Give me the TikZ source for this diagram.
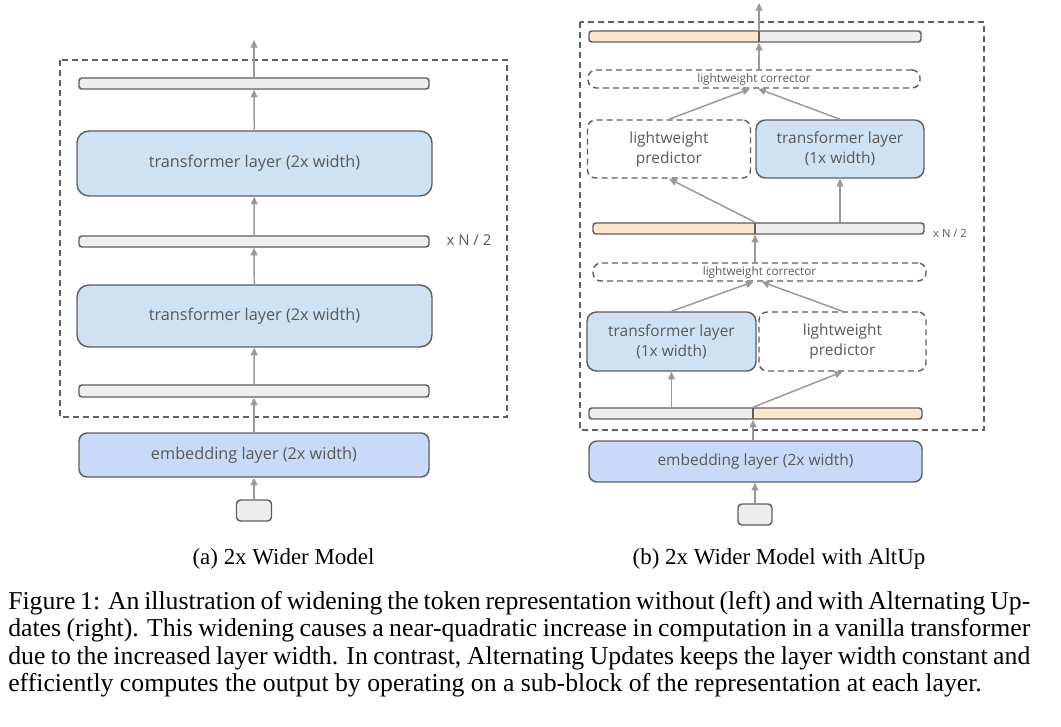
\documentclass[tikz,border=0pt]{standalone}
\usepackage{fontspec}
\setmainfont{Liberation Serif}
\newfontfamily\gsans{Open Sans}
\usetikzlibrary{arrows.meta,calc}
\definecolor{tfill}{HTML}{CFE2F3}
\definecolor{efill}{HTML}{C9DAF8}
\definecolor{bfill}{HTML}{EEEEEE}
\definecolor{ofill}{HTML}{FCE5CD}
\definecolor{edgec}{HTML}{5F5F5F}
\definecolor{arrc}{HTML}{999999}
\definecolor{txtc}{HTML}{595959}
\def\pxu{0.75pt}
\begin{document}
\begin{tikzpicture}[x=0.75pt,y=-0.75pt,
  boxbase/.style={draw=edgec, line width=1.1pt, inner sep=0pt, text=txtc, align=center},
  sized/.style 2 args={minimum width=#1*\pxu, minimum height=#2*\pxu},
  bigtxt/.style={font=\gsans\fontsize{12.2}{15}\selectfont},
  midtxt/.style={font=\gsans\fontsize{11.6}{15}\selectfont},
  smalltxt/.style={font=\gsans\fontsize{8.8}{10}\selectfont},
  tlayer/.style={boxbase, fill=tfill, rounded corners=9pt},
  emb/.style={boxbase, fill=efill, rounded corners=6pt},
  barbox/.style={boxbase, fill=bfill, rounded corners=2.2pt},
  tok/.style={boxbase, fill=bfill, rounded corners=3pt},
  dashbox/.style={boxbase, dash pattern=on 4.5pt off 3pt, rounded corners=6pt, fill=white},
  frame/.style={draw=edgec, line width=1.1pt, dash pattern=on 4.5pt off 3pt},
  arr/.style={draw=arrc, line width=1.1pt, -{Triangle[length=5.8pt,width=5.2pt]}},
  lbl/.style={text=txtc, inner sep=0pt},
  orangeleft/.style={path picture={
     \fill[ofill] (path picture bounding box.north west) rectangle ([xshift=#1]path picture bounding box.south);
     \draw[edgec, line width=1.1pt] ([xshift=#1]path picture bounding box.north) -- ([xshift=#1]path picture bounding box.south);}},
  orangeright/.style={path picture={
     \fill[ofill] ([xshift=#1]path picture bounding box.north) rectangle (path picture bounding box.south east);
     \draw[edgec, line width=1.1pt] ([xshift=#1]path picture bounding box.north) -- ([xshift=#1]path picture bounding box.south);}},
  subcap/.style={anchor=base, inner sep=0pt, font=\fontsize{17.2}{20.5}\selectfont},
  bodyline/.style={anchor=base west, inner sep=0pt, font=\fontsize{19.3}{21}\selectfont}
]
\useasboundingbox (0,0) rectangle (1061,727);

% ---------------- left panel ----------------
\draw[frame] (60,60) rectangle (507,417);
\node[barbox, sized={350}{11}] (a4) at (254,83.5) {};
\node[tlayer, bigtxt, sized={355}{65}] (a3) at (254.5,163.5) {transformer layer (2x width)};
\node[barbox, sized={350}{11}] (a2) at (254,241.5) {};
\node[tlayer, bigtxt, sized={355}{62}] (a1) at (254.5,316) {transformer layer (2x width)};
\node[barbox, sized={350}{12}] (a0) at (254,391) {};
\node[emb, bigtxt, sized={350}{44}] (ae) at (254,455) {embedding layer (2x width)};
\node[tok, sized={35}{21}] (at) at (254,510.5) {};
\node[lbl, font=\gsans\fontsize{11.2}{13}\selectfont] (an) at (469,240) {x N / 2};
\coordinate (aout) at (254,40);

\draw[arr] (at) -- (ae);
\draw[arr] (ae) -- (a0);
\draw[arr] (a0) -- (a1);
\draw[arr] (a1) -- (a2);
\draw[arr] (a2) -- (a3);
\draw[arr] (a3) -- (a4);
\draw[arr] (a4.north) -- (aout);

% ---------------- right panel ----------------
\draw[frame] (580,22) rectangle (984,430);
\node[barbox, orangeleft=3pt, sized={332}{11}] (b4) at (755,36.5) {};
\coordinate (b4s) at ([xshift=3pt]b4.north);
\coordinate (bout) at (759,3);
\node[dashbox, smalltxt, sized={332}{18}] (c2) at (754,79) {lightweight corrector};
\node[dashbox, midtxt, sized={163}{58}] (p2) at (669,149) {lightweight\\predictor};
\node[tlayer, midtxt, rounded corners=7pt, sized={168}{58}] (t2) at (840,149) {transformer layer\\(1x width)};
\node[barbox, orangeleft=-2.6pt, sized={331}{11}] (b2) at (758.5,228.5) {};
\coordinate (b2s) at ([xshift=-2.6pt]b2.north);
\node[lbl, font=\gsans\fontsize{8.4}{10}\selectfont] (bn) at (950,233) {x N / 2};
\node[dashbox, smalltxt, sized={333}{18}] (c1) at (759.5,272) {lightweight corrector};
\node[tlayer, midtxt, rounded corners=7pt, sized={169}{59}] (t1) at (671.5,341.5) {transformer layer\\(1x width)};
\node[dashbox, midtxt, sized={167}{59}] (p1) at (842.5,341.5) {lightweight\\predictor};
\node[barbox, orangeright=-1.9pt, sized={333}{11}] (b0) at (755.5,413.5) {};
\coordinate (b0s) at ([xshift=-1.9pt]b0.north);
\node[emb, midtxt, sized={333}{41}] (be) at (755.5,461.5) {embedding layer (2x width)};
\node[tok, sized={34}{21}] (bt) at (755,514.5) {};

\draw[arr] (bt.north) -- (bt.north |- be.south);
\draw[arr] (be.north -| b0s) -- (b0.south -| b0s);
\draw[arr] (b0.north -| t1.south) -- (t1.south);
\draw[arr] (b0s) -- (p1.south);
\draw[arr] (t1.north) -- ([xshift=-4.5pt]c1.south);
\draw[arr] (p1.north) -- ([xshift=1.5pt]c1.south);
\draw[arr] (c1.north -| b2s) -- (b2.south -| b2s);
\draw[arr] (b2s) -- (p2.south);
\draw[arr] (b2.north -| t2.south) -- (t2.south);
\draw[arr] (p2.north) -- ([xshift=-3pt]c2.south);
\draw[arr] (t2.north) -- ([xshift=3pt]c2.south);
\draw[arr] (c2.north -| b4s) -- (b4.south -| b4s);
\draw[arr] (b4s) -- (bout);

% ---------------- captions ----------------
\node[subcap] (capa) at (283.5,564) {(a) 2x Wider Model};
\node[subcap] (capb) at (779,564) {(b) 2x Wider Model with AltUp};
\node[bodyline] (l1) at (8,609) {\makebox[766.5pt][s]{Figure 1: An illustration of widening the token representation without (left) and with Alternating Up-}};
\node[bodyline] (l2) at (8,636.5) {\makebox[766.5pt][s]{dates (right). This widening causes a near-quadratic increase in computation in a vanilla transformer}};
\node[bodyline] (l3) at (8,664) {\makebox[766.5pt][s]{due to the increased layer width. In contrast, Alternating Updates keeps the layer width constant and}};
\node[bodyline] (l4) at (8,691.5) {efficiently computes the output by operating on a sub-block of the representation at each layer.};
\end{tikzpicture}
\end{document}
